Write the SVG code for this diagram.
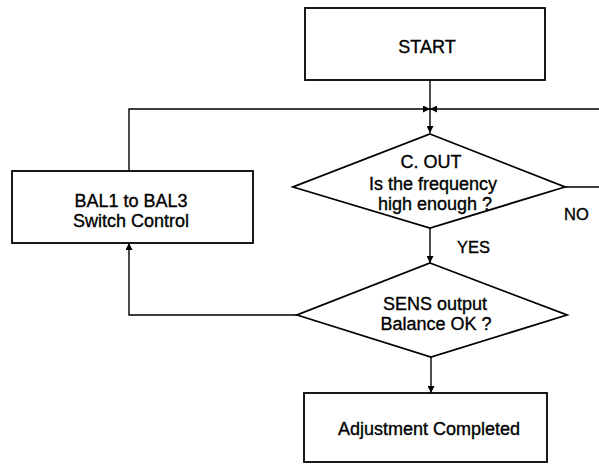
<svg xmlns="http://www.w3.org/2000/svg" width="599" height="464" viewBox="0 0 599 464">
<defs>
<marker id="arr" viewBox="0 0 10 10" refX="10" refY="5" markerWidth="10" markerHeight="7" markerUnits="userSpaceOnUse" orient="auto">
<path d="M0,0 L10,5 L0,10 z" fill="#000"/>
</marker>
</defs>
<style>
.box{fill:#fff;stroke:#000;stroke-width:1.8}
.con{fill:none;stroke:#000;stroke-width:1.4}
text{font-family:"Liberation Sans",Arial,sans-serif;font-size:18px;fill:#000;stroke:#000;stroke-width:0.35;text-anchor:middle}
.lbl{font-size:16.5px;text-anchor:start}
</style>
<rect width="599" height="464" fill="#fff"/>
<g id="connectors">
<path class="con" d="M430,80 V133" marker-end="url(#arr)"/>
<path class="con" d="M129,171 V109 H430" marker-end="url(#arr)"/>
<path class="con" d="M599,109 H430" marker-end="url(#arr)"/>
<path class="con" d="M565,187 H599"/>
<path class="con" d="M430,228 V263" marker-end="url(#arr)"/>
<path class="con" d="M297,315 H129 V243" marker-end="url(#arr)"/>
<path class="con" d="M431,357 V393" marker-end="url(#arr)"/>
</g>
<g id="start">
<rect class="box" x="305" y="8" width="240" height="72"/>
<text x="427" y="53">START</text>
</g>
<g id="freq">
<polygon class="box" points="430,134 565,187 430,228 293,187"/>
<text x="431" y="168">C. OUT</text>
<text x="433" y="190">Is the frequency</text>
<text x="435" y="210">high enough ?</text>
</g>
<g id="sens">
<polygon class="box" points="430,263 567,315 431,357 297,315"/>
<text x="435" y="310">SENS output</text>
<text x="436" y="330">Balance OK ?</text>
</g>
<g id="bal">
<rect class="box" x="12" y="171" width="241" height="72"/>
<text x="131" y="207">BAL1 to BAL3</text>
<text x="131" y="227">Switch Control</text>
</g>
<g id="done">
<rect class="box" x="304" y="393" width="243" height="69"/>
<text x="429" y="435">Adjustment Completed</text>
</g>
<g id="labels">
<text class="lbl" x="457" y="253">YES</text>
<text class="lbl" x="564" y="220">NO</text>
</g>
</svg>
